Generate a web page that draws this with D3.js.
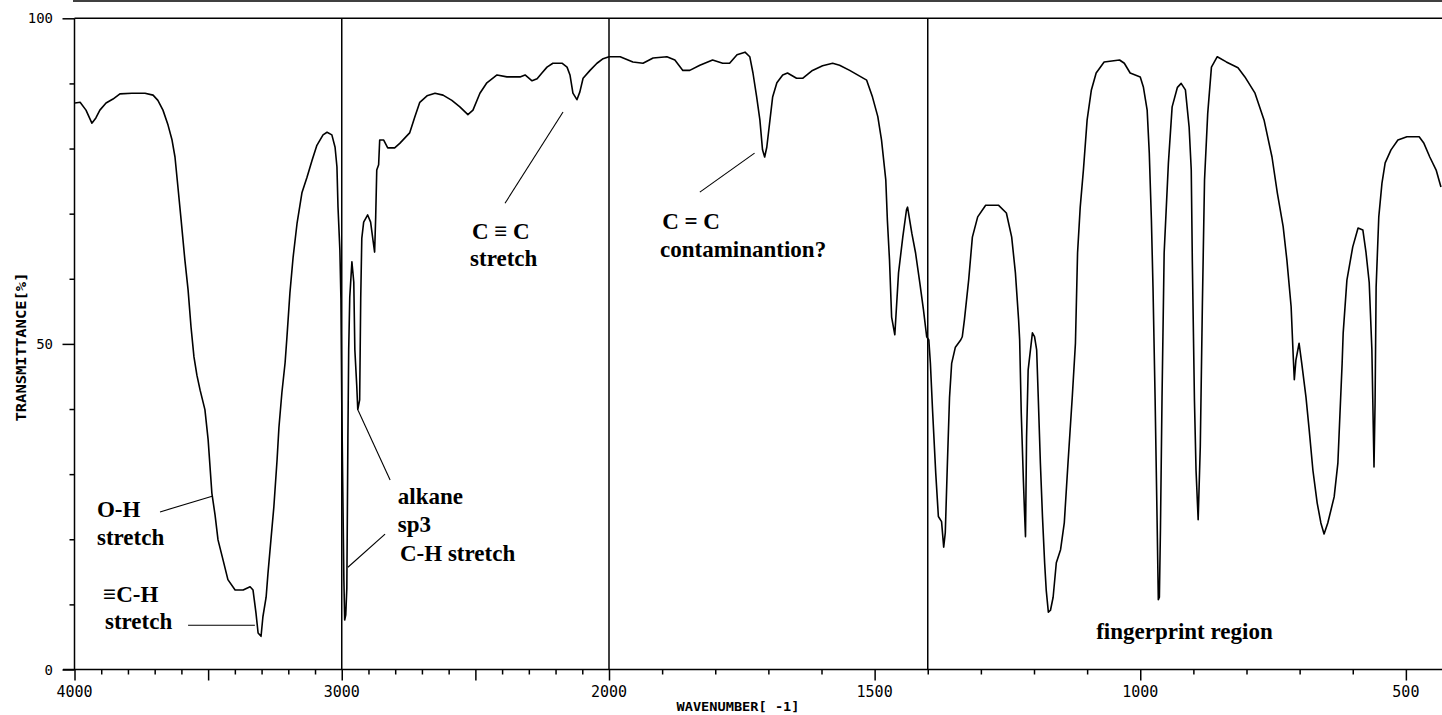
<!DOCTYPE html>
<html><head><meta charset="utf-8">
<script src="https://cdn.jsdelivr.net/npm/d3@7"></script>
<style>
html,body{margin:0;padding:0;background:#fff;}
svg{display:block;}
</style></head><body>
<script>
// ---- data ----
const wavenumber = [3998,3979,3957,3935,3920,3905,3882,3856,3830,3785,3736,3706,3688,3669,3650,3635,3624,3613,3601,3587,3575,3564,3553,3542,3530,3512,3500,3486,3474,3463,3444,3426,3399,3369,3343,3332,3321,3313,3302,3295,3283,3276,3265,3254,3242,3235,3224,3212,3205,3194,3182,3167,3149,3130,3111,3093,3070,3055,3037,3025,3018,3014,3007,3003,3000,2996,2992,2989,2985,2981,2977,2974,2970,2962,2955,2951,2944,2940,2933,2929,2925,2918,2903,2892,2884,2877,2873,2869,2862,2858,2843,2828,2802,2783,2746,2727,2708,2681,2651,2621,2588,2558,2528,2509,2483,2457,2419,2382,2333,2314,2288,2269,2251,2232,2210,2176,2157,2146,2135,2120,2109,2097,2071,2045,2022,2000,
1979,1955,1936,1917,1891,1876,1861,1848,1829,1805,1786,1773,1759,1744,1735,1729,1722,1716,1711,1707,1703,1697,1692,1684,1673,1664,1647,1635,1617,1598,1579,1566,1547,1515,1504,1494,1487,1479,1476,1472,1468,1462,1455,1447,1440,1438,1430,1423,1415,1408,1402,1398,1395,1391,1385,1380,1374,1370,1367,1363,1359,1355,1348,1338,1335,1331,1323,1316,1306,1291,1267,1252,1242,1235,1229,1227,1224,1220,1218,1216,1214,1211,1203,1199,1195,1192,1188,1184,1180,1177,1173,1169,1164,1158,1150,1143,1136,1128,1122,1118,1113,1107,1100,1092,1083,1068,1039,1030,1019,1000,994,987,983,979,976,972,968,966,964,962,959,955,947,940,930,923,915,908,904,902,898,895,891,887,883,879,873,866,855,838,816,803,784,767,752,742,731,724,716,712,710,707,701,696,688,682,675,667,660,654,647,635,628,624,620,618,611,600,590,581,575,569,564,560,558,556,551,545,539,528,515,498,475,466,455,443,434];
const transmittance = [87.0,87.1,85.9,83.9,84.7,85.9,87.0,87.6,88.4,88.5,88.5,88.2,87.4,85.9,83.6,81.3,78.7,74.1,69.0,62.9,58.3,52.6,48.0,45.2,42.9,39.9,35.3,27.1,23.7,19.9,16.8,13.8,12.2,12.2,12.7,12.2,8.7,5.6,5.1,8.1,11.1,14.8,19.9,25.0,32.2,37.2,42.5,47.1,51.1,57.8,63.3,68.6,73.2,75.6,78.2,80.5,82.1,82.5,82.1,80.2,77.2,71.0,64.4,56.7,41.4,27.3,13.7,7.6,8.4,12.5,35.5,49.1,57.2,62.6,59.5,49.1,43.7,39.9,41.4,57.0,66.2,68.7,69.8,68.7,66.2,64.1,69.5,76.7,77.5,81.3,81.3,80.1,80.1,80.8,82.4,84.8,87.1,88.1,88.5,88.2,87.4,86.4,85.2,85.9,88.5,90.1,91.3,91.0,91.0,91.3,90.4,90.7,91.6,92.5,93.1,93.1,92.5,91.3,88.5,87.5,88.7,90.8,92.0,93.1,93.8,94.1,
94.1,93.3,93.1,93.9,94.1,93.6,92.0,92.0,92.8,93.6,93.1,93.1,94.4,94.8,94.1,91.6,87.9,84.4,79.8,78.7,80.2,84.4,87.9,90.1,91.3,91.6,90.8,90.8,92.0,92.7,93.1,92.8,92.0,90.5,87.9,84.9,81.3,75.2,69.0,62.9,54.1,51.4,60.9,66.4,70.6,71.0,67.0,64.0,59.4,55.2,51.1,50.6,47.0,39.9,30.2,23.5,22.7,18.8,21.0,31.7,41.8,47.0,49.5,50.6,51.1,53.7,59.8,66.4,69.5,71.3,71.3,70.1,66.4,60.9,53.7,50.6,39.4,29.1,24.5,20.4,35.7,46.0,51.7,51.1,49.1,41.8,31.7,23.4,16.4,12.2,8.8,9.1,11.1,16.4,18.4,22.5,31.7,41.8,50.1,64.0,71.0,76.7,84.4,89.0,91.6,93.3,93.6,93.1,91.6,91.0,89.4,85.9,79.3,69.0,58.7,41.4,21.4,10.7,11.1,21.4,41.8,64.0,77.8,86.4,89.4,90.0,89.0,83.3,76.7,62.9,41.4,30.6,23.0,34.2,56.3,75.2,85.4,92.5,94.1,93.3,92.4,91.0,88.5,84.4,78.7,73.2,68.0,62.9,55.7,48.0,44.5,47.5,50.1,47.0,41.8,36.8,30.6,25.6,22.5,20.8,22.5,26.5,31.7,39.4,47.0,51.7,59.8,64.9,67.8,67.5,64.0,59.4,49.1,31.1,40.9,58.7,69.5,74.7,77.8,79.8,81.3,81.8,81.8,80.8,78.7,76.7,74.1];

const xLabeledTicks = [4000,3000,2000,1500,1000,500];
const yLabeledTicks = [0,50,100];
const regionLines = [3000,2000,1400];
const xTitle = "WAVENUMBER[ -1]";
const yTitle = "TRANSMITTANCE[%]";

// annotation texts: [text, wavenumber, transmittance]
const annotationTexts = [
  ["O-H", 3916, 23.4], ["stretch", 3916, 19.1],
  ["\u2261C-H", 3893, 10.4], ["stretch", 3886, 6.2],
  ["alkane", 2790, 25.4], ["sp3", 2790, 21.1], ["C-H stretch", 2782, 16.7],
  ["C \u2261 C", 2513, 66.1], ["stretch", 2520, 62.0],
  ["C = C", 1900, 67.6], ["contaminantion?", 1904, 63.3],
  ["fingerprint region", 1083, 4.7]
];
// leader lines: [wn1, T1, wn2, T2]
const leaderLines = [
  [3680, 24.2, 3485, 26.6],
  [3575, 6.8, 3325, 6.8],
  [2819, 29.1, 2939, 39.8],
  [2838, 20.8, 2977, 15.7],
  [2389, 71.6, 2172, 85.6],
  [1829, 73.3, 1726, 79.3]
];

// ---- layout ----
const W = 1442, H = 715;
const svg = d3.select("body").append("svg").attr("width", W).attr("height", H);

const x = d3.scaleLinear().domain([4000, 2000, 432]).range([74.5, 609, 1442]);
const y = d3.scaleLinear().domain([0, 100]).range([669.5, 18.3]);

const monoFont = "'DejaVu Sans Mono', monospace";
const serifFont = "'Liberation Serif', 'Times New Roman', serif";

// top frame line
svg.append("line").attr("x1", 73).attr("x2", W).attr("y1", 1).attr("y2", 1)
  .attr("stroke", "#000").attr("stroke-width", 1.5);
// top of plot (100%)
svg.append("line").attr("x1", x.range()[0]).attr("x2", W).attr("y1", y(100)).attr("y2", y(100))
  .attr("stroke", "#000").attr("stroke-width", 1.5);

// X axis
const xTickVals = d3.range(4000, 499, -100);
const xAxis = d3.axisBottom(x).tickValues(xTickVals).tickSize(6).tickFormat("");
const gx = svg.append("g").attr("transform", `translate(0,${y(0)})`).call(xAxis);
gx.select(".domain").remove();
gx.selectAll(".tick line").attr("stroke", "#000").attr("stroke-width", 1.5)
  .attr("y2", d => d % 500 === 0 ? 11 : 5);
svg.append("line").attr("x1", 63).attr("x2", W).attr("y1", y(0)).attr("y2", y(0))
  .attr("stroke", "#000").attr("stroke-width", 1.5);
svg.append("g").selectAll("text").data(xLabeledTicks).join("text")
  .attr("x", d => x(d)).attr("y", 697).attr("text-anchor", "middle")
  .attr("font-family", monoFont).attr("font-size", 15).attr("fill", "#000")
  .text(d => d);

// Y axis
const yAxis = d3.axisLeft(y).tickValues(d3.range(0, 101, 10)).tickSize(5).tickFormat("");
const gy = svg.append("g").attr("transform", `translate(${x.range()[0]},0)`).call(yAxis);
gy.select(".domain").remove();
gy.selectAll(".tick line").attr("stroke", "#000").attr("stroke-width", 1.5)
  .attr("x2", d => d % 50 === 0 ? -12 : -5);
svg.append("line").attr("x1", x.range()[0]).attr("x2", x.range()[0]).attr("y1", y(100)).attr("y2", y(0))
  .attr("stroke", "#000").attr("stroke-width", 1.5);
svg.append("g").selectAll("text").data(yLabeledTicks).join("text")
  .attr("x", 53).attr("y", d => y(d) + 5).attr("text-anchor", "end")
  .attr("font-family", monoFont).attr("font-size", 14).attr("fill", "#000")
  .text(d => d);

// axis titles
svg.append("text").attr("x", 738).attr("y", 711).attr("text-anchor", "middle")
  .attr("font-family", monoFont).attr("font-size", 13).attr("font-weight", "bold")
  .attr("textLength", 123).attr("lengthAdjust", "spacingAndGlyphs")
  .text(xTitle);
svg.append("text").attr("transform", "translate(26,347) rotate(-90)").attr("text-anchor", "middle")
  .attr("font-family", monoFont).attr("font-size", 14).attr("font-weight", "bold")
  .attr("textLength", 149).attr("lengthAdjust", "spacingAndGlyphs")
  .text(yTitle);

// region dividing lines
svg.append("g").selectAll("line").data(regionLines).join("line")
  .attr("x1", d => x(d)).attr("x2", d => x(d)).attr("y1", y(100)).attr("y2", y(0))
  .attr("stroke", "#000").attr("stroke-width", 1.5);

// spectrum
const pts = wavenumber.map((w, i) => [w, transmittance[i]]);
const line = d3.line().x(d => x(d[0])).y(d => y(d[1])).curve(d3.curveLinear);
svg.append("path").datum(pts).attr("d", line)
  .attr("fill", "none").attr("stroke", "#000").attr("stroke-width", 1.6)
  .attr("stroke-linejoin", "round");

// leader lines
svg.append("g").selectAll("line").data(leaderLines).join("line")
  .attr("x1", d => x(d[0])).attr("y1", d => y(d[1]))
  .attr("x2", d => x(d[2])).attr("y2", d => y(d[3]))
  .attr("stroke", "#000").attr("stroke-width", 1.1);

// annotation texts
svg.append("g").selectAll("text").data(annotationTexts).join("text")
  .attr("x", d => x(d[1])).attr("y", d => y(d[2]))
  .attr("font-family", serifFont).attr("font-size", 23).attr("font-weight", "bold")
  .attr("fill", "#000")
  .text(d => d[0]);
</script>
</body></html>
